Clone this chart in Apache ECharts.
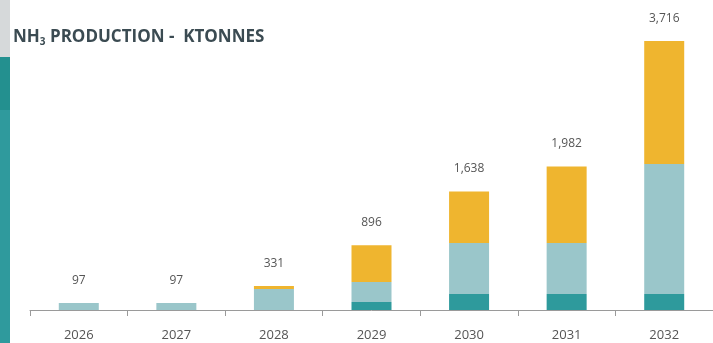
<!DOCTYPE html>
<html><head><meta charset="utf-8">
<script src="https://cdn.jsdelivr.net/npm/echarts@6/dist/echarts.min.js"></script>
<style>html,body{margin:0;padding:0;background:#fff;}#c{width:713px;height:343px;}</style>
</head><body><div id="c"></div>
<script>
const categories = ['2026','2027','2028','2029','2030','2031','2032'];
const darkTeal  = [0, 0, 0, 110, 221, 221, 221];
const lightTeal = [97, 97, 291, 276, 704, 704, 1796];
const yellow    = [0, 0, 40, 510, 713, 1057, 1699];
const totals    = [97, 97, 331, 896, 1638, 1982, 3716];

const chart = echarts.init(document.getElementById('c'));
const fmt = v => v.toLocaleString('en-US');
const labelFont = "'Open Sans', sans-serif";
chart.setOption({
  animation: false,
  graphic: [
    {type:'rect', shape:{x:0,y:0,width:10,height:57}, style:{fill:'#d6d9da'}},
    {type:'rect', shape:{x:0,y:57,width:10,height:286}, style:{fill:'#2f9a9d'}},
    {type:'rect', shape:{x:0,y:57,width:10,height:53}, style:{fill:'#23908f'}},
    {type:'text', left:13, top:29, style:{
      text:'{a|NH}{s|3}{a| PRODUCTION -  KTONNES}',
      rich:{
        a:{fontFamily:labelFont, fontWeight:'bold', fontSize:17, fill:'#3b4b52'},
        s:{fontFamily:labelFont, fontWeight:'bold', fontSize:10, fill:'#3b4b52', verticalAlign:'bottom', padding:[9,0,0,0]}
      }
    }}
  ],
  grid: {left:30, width:687, top:41, bottom:33},
  xAxis: {
    type:'category', data:categories,
    axisLine:{lineStyle:{color:'#9a9a9a', width:1}},
    axisTick:{show:true, length:6, lineStyle:{color:'#9a9a9a'}},
    axisLabel:{color:'#555', fontFamily:labelFont, fontSize:13, margin:19}
  },
  yAxis: {type:'value', min:0, max:3716, show:false, splitLine:{show:false}},
  series: [
    {type:'bar', stack:'s', data:darkTeal, barWidth:40, itemStyle:{color:'#2e9a9c'}},
    {type:'bar', stack:'s', data:lightTeal, barWidth:40, itemStyle:{color:'#9ac6ca'}},
    {type:'bar', stack:'s', data:yellow, barWidth:40, itemStyle:{color:'#efb52f'}},
    {type:'line', data:totals, symbol:'circle', symbolSize:1, showSymbol:true,
     itemStyle:{color:'rgba(0,0,0,0)'}, lineStyle:{opacity:0}, silent:true,
     label:{show:true, position:'top', distance:16, color:'#555', fontFamily:labelFont, fontSize:12,
       formatter:p=>fmt(p.value)}}
  ]
});
</script></body></html>
